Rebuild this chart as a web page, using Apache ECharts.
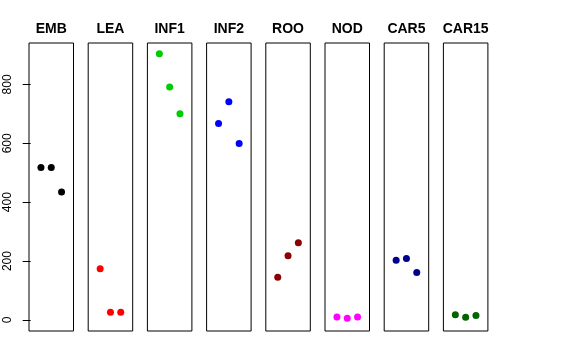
<!DOCTYPE html>
<html><head><meta charset="utf-8">
<script src="https://cdn.jsdelivr.net/npm/echarts@6/dist/echarts.min.js"></script>
<style>html,body{margin:0;padding:0;background:#fff}#c{width:576px;height:360px}</style>
</head><body><div id="c"></div>
<script>
const groups = ["EMB","LEA","INF1","INF2","ROO","NOD","CAR5","CAR15"];
const EMB = [518, 518, 435];
const LEA = [174, 26, 26];
const INF1 = [904, 791, 700];
const INF2 = [667, 741, 599];
const ROO = [145, 218, 262];
const NOD = [10, 6, 10];
const CAR5 = [203, 209, 161];
const CAR15 = [18, 9, 15];
const values = [EMB, LEA, INF1, INF2, ROO, NOD, CAR5, CAR15];
const colors = ["#000000","#FF0000","#00CD00","#0000FF","#8B0000","#FF00FF","#00008B","#006400"];
const yTicks = [0, 200, 400, 600, 800];

const chart = echarts.init(document.getElementById('c'), null, {renderer:'canvas'});
const grids=[], xAxes=[], yAxes=[], series=[], texts=[];
const step = 59.2, left0 = 29, w = 44.5;
groups.forEach((g,i)=>{
  const L = left0 + step*i;
  grids.push({left:L, top:43, width:w, height:288, show:true, borderColor:'#000', borderWidth:1, backgroundColor:'transparent'});
  xAxes.push({type:'value', gridIndex:i, min:-0.16, max:4.16, show:false});
  yAxes.push({type:'value', gridIndex:i, min:-37.4, max:940.6, show:i===0,
    splitLine:{show:false},
    axisLine:{show:false},
    axisTick:{show:true, length:8, customValues:yTicks, lineStyle:{color:'#000'}},
    axisLabel:{show:true, customValues:yTicks, rotate:90, margin:15, color:'#000', fontSize:12, fontFamily:'Liberation Sans, Arial, sans-serif'}
  });
  series.push({type:'scatter', xAxisIndex:i, yAxisIndex:i, symbol:'circle', symbolSize:7,
    itemStyle:{color:colors[i], opacity:1}, data: values[i].map((v,k)=>[k+1, v]), silent:true});
  texts.push({type:'text', x: L + w/2, y: 29, silent:true,
    style:{text:g, textAlign:'center', textVerticalAlign:'middle', align:'center', verticalAlign:'middle',
      fontSize:14, fontWeight:'bold', fill:'#000', fontFamily:'Liberation Sans, Arial, sans-serif'}});
});
chart.setOption({animation:false, grid:grids, xAxis:xAxes, yAxis:yAxes, series:series, graphic:texts});
</script></body></html>
